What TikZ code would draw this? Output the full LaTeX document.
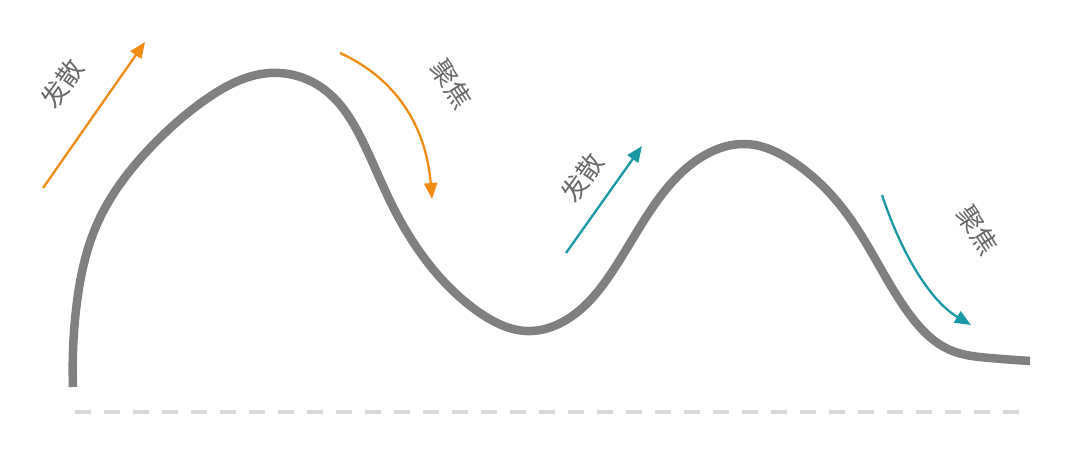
\documentclass[tikz,border=0pt]{standalone}
\usepackage{fontspec}
\newfontfamily\cjk{Noto Sans CJK SC}
\usetikzlibrary{arrows.meta,hobby}
\definecolor{curvegrey}{HTML}{808080}
\definecolor{dashgrey}{HTML}{D9D9D9}
\definecolor{arrorange}{HTML}{EE8C14}
\definecolor{arrteal}{HTML}{1A98A4}
\definecolor{labelgrey}{HTML}{6A6A6A}
\tikzset{
  curveline/.style={draw=curvegrey, line width=8.5pt, line join=round},
  baseline/.style={draw=dashgrey, line width=4pt, dash pattern=on 16pt off 13pt},
  flowarrow/.style={line width=2.3pt, -{Triangle[length=16pt,width=13pt]}},
  lbl/.style={font=\cjk\fontsize{26}{30}\selectfont, text=labelgrey, inner sep=0pt}
}
\begin{document}
\begin{tikzpicture}[x=1pt,y=-1pt]
\useasboundingbox (0,0) rectangle (1080,452);
\fill[white] (0,0) rectangle (1080,452);
% baseline
\coordinate (b1) at (75,412);
\coordinate (b2) at (1024,412);
\draw[baseline] (b1) -- (b2);
% main curve
\draw[curveline] (73,387) to[curve through={(76,310) (98,222) (150,148) (205,100) (270,73)
 (325,90) (362,140) (392,205) (432,268) (480,313) (527,331)
 (575,314) (612,272) (660,197) (705,155) (745,144) (795,163)
 (840,205) (873,255) (910,315) (950,350) (990,358)}] (1030,361);
% arrows
\coordinate (a1s) at (43,188);
\coordinate (a1e) at (145,42);
\draw[flowarrow, arrorange] (a1s) -- (a1e);
\coordinate (a2s) at (340,53);
\coordinate (a2e) at (432,199);
\draw[flowarrow, arrorange] (a2s) .. controls (395,78) and (426,125) .. (a2e);
\coordinate (a3s) at (566,253);
\coordinate (a3e) at (642,146);
\draw[flowarrow, arrteal] (a3s) -- (a3e);
\coordinate (a4s) at (882,195);
\coordinate (a4e) at (971,325);
\draw[flowarrow, arrteal] (a4s) .. controls (903,258) and (932,302) .. (a4e);
% labels
\node[lbl, rotate=55] (l1) at (62,84) {发散};
\node[lbl, rotate=-57] (l2) at (452,84) {聚焦};
\node[lbl, rotate=55] (l3) at (582,178) {发散};
\node[lbl, rotate=-57] (l4) at (978,230) {聚焦};
\end{tikzpicture}
\end{document}
